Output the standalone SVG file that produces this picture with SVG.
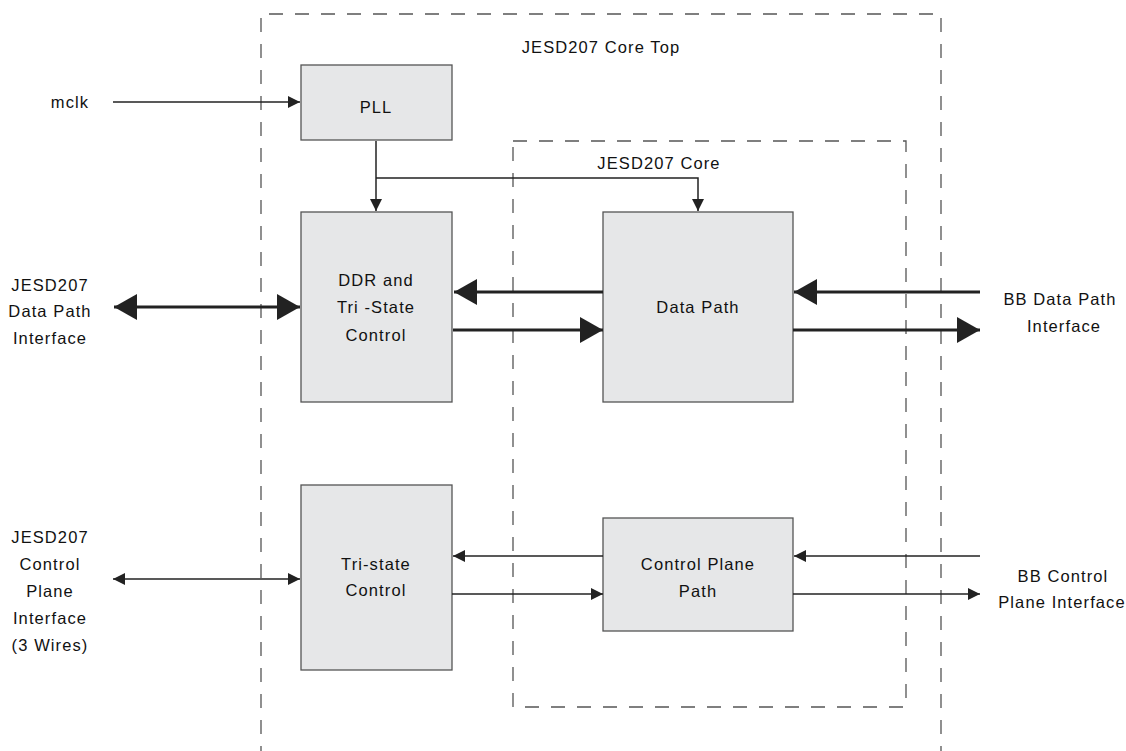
<svg xmlns="http://www.w3.org/2000/svg" width="1126" height="751" viewBox="0 0 1126 751">
<style>
.box{fill:#e6e7e8;stroke:#555;stroke-width:1.3}
.dash{fill:none;stroke:#555;stroke-width:1.3;stroke-dasharray:14 12}
.t{font-family:"Liberation Sans",Arial,sans-serif;font-size:16.5px;letter-spacing:1.1px;fill:#111;text-anchor:middle}
.thin{fill:none;stroke:#222;stroke-width:1.5}
.thick{fill:none;stroke:#222;stroke-width:3}
</style>
<defs>
<marker id="ah" markerUnits="userSpaceOnUse" markerWidth="12" markerHeight="12" refX="12" refY="6" orient="auto-start-reverse"><path d="M0,0 L12,6 L0,12 z" fill="#222"/></marker>
<marker id="AH" markerUnits="userSpaceOnUse" markerWidth="23" markerHeight="26" refX="23" refY="13" orient="auto-start-reverse"><path d="M0,0 L23,13 L0,26 z" fill="#222"/></marker>
</defs>
<rect width="1126" height="751" fill="#fff"/>
<g id="core-top">
<path class="dash" d="M261,760 L261,14 L941,14 L941,760"/>
<text class="t" x="601" y="53">JESD207 Core Top</text>
</g>
<g id="core">
<rect class="dash" x="513" y="141" width="393" height="566"/>
<text class="t" x="659" y="169">JESD207 Core</text>
</g>
<g id="pll">
<rect class="box" x="301" y="65" width="151" height="75"/>
<text class="t" x="376" y="113">PLL</text>
</g>
<g id="ddr">
<rect class="box" x="301" y="212" width="151" height="190"/>
<text class="t" x="376" y="286">DDR and</text>
<text class="t" x="376" y="313">Tri -State</text>
<text class="t" x="376" y="341">Control</text>
</g>
<g id="datapath">
<rect class="box" x="603" y="212" width="190" height="190"/>
<text class="t" x="698" y="313">Data Path</text>
</g>
<g id="tristate">
<rect class="box" x="301" y="485" width="151" height="185"/>
<text class="t" x="376" y="570">Tri-state</text>
<text class="t" x="376" y="596">Control</text>
</g>
<g id="ctrlpath">
<rect class="box" x="603" y="518" width="190" height="113"/>
<text class="t" x="698" y="570">Control Plane</text>
<text class="t" x="698" y="597">Path</text>
</g>
<g id="labels">
<text class="t" x="70" y="108">mclk</text>
<text class="t" x="50" y="291">JESD207</text>
<text class="t" x="50" y="317">Data Path</text>
<text class="t" x="50" y="344">Interface</text>
<text class="t" x="50" y="543">JESD207</text>
<text class="t" x="50" y="570">Control</text>
<text class="t" x="50" y="597">Plane</text>
<text class="t" x="50" y="624">Interface</text>
<text class="t" x="50" y="651">(3 Wires)</text>
<text class="t" x="1060" y="305">BB Data Path</text>
<text class="t" x="1064" y="332">Interface</text>
<text class="t" x="1063" y="582">BB Control</text>
<text class="t" x="1062" y="608">Plane Interface</text>
</g>
<g id="connectors">
<line class="thin" x1="113" y1="102" x2="300" y2="102" marker-end="url(#ah)"/>
<line class="thin" x1="376" y1="141" x2="376" y2="211" marker-end="url(#ah)"/>
<polyline class="thin" points="376,178 698,178 698,211" marker-end="url(#ah)"/>
<line class="thick" x1="114" y1="307" x2="300" y2="307" marker-start="url(#AH)" marker-end="url(#AH)"/>
<line class="thick" x1="603" y1="292" x2="454" y2="292" marker-end="url(#AH)"/>
<line class="thick" x1="453" y1="330" x2="603" y2="330" marker-end="url(#AH)"/>
<line class="thick" x1="980" y1="292" x2="794" y2="292" marker-end="url(#AH)"/>
<line class="thick" x1="793" y1="330" x2="980" y2="330" marker-end="url(#AH)"/>
<line class="thin" x1="113" y1="579" x2="300" y2="579" marker-start="url(#ah)" marker-end="url(#ah)"/>
<line class="thin" x1="603" y1="556" x2="453" y2="556" marker-end="url(#ah)"/>
<line class="thin" x1="452" y1="594" x2="603" y2="594" marker-end="url(#ah)"/>
<line class="thin" x1="980" y1="556" x2="794" y2="556" marker-end="url(#ah)"/>
<line class="thin" x1="793" y1="594" x2="980" y2="594" marker-end="url(#ah)"/>
</g>
</svg>
